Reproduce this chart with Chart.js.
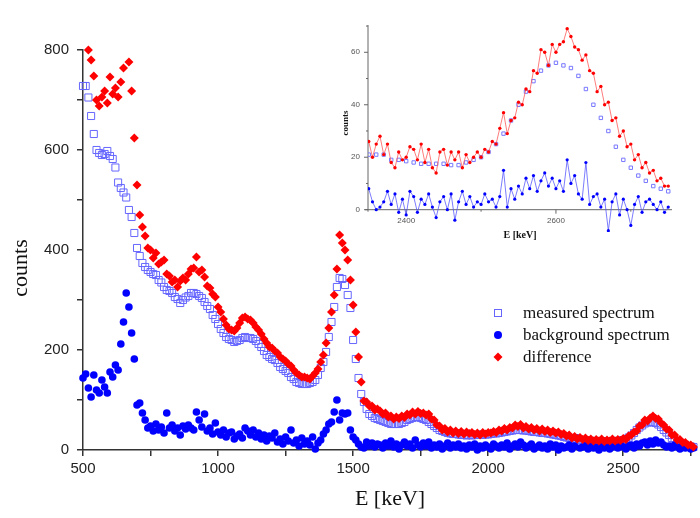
<!DOCTYPE html>
<html>
<head>
<meta charset="utf-8">
<script src="https://cdn.jsdelivr.net/npm/chart.js@4.4.0/dist/chart.umd.min.js"></script>
<style>
  html, body { margin: 0; padding: 0; background: #fff; overflow: hidden; }
  #wrap { position: relative; width: 700px; height: 518px; }
  #main { position: absolute; left: 0; top: 0; }
  #inset { position: absolute; left: 340px; top: 0; }
</style>
</head>
<body>
<div id="wrap">
  <canvas id="main" width="700" height="518"></canvas>
  <canvas id="inset" width="360" height="250"></canvas>
</div>
<script>
// Datos del espectro principal (canal de 10 keV a partir de 500 keV)
const E_START = 500;
const E_STEP = 10;

const SERIES_LABELS = ['measured spectrum', 'background spectrum', 'difference'];
const X_TITLE = 'E [keV]';
const Y_TITLE = 'counts';
const X_TICK_LABELS = [500, 1000, 1500, 2000, 2500];
const X_TICK_MARKS = [500, 750, 1000, 1250, 1500, 1750, 2000, 2250, 2500, 2750];
const Y_TICK_LABELS = [0, 200, 400, 600, 800];
const Y_TICK_MARKS = [0, 100, 200, 300, 400, 500, 600, 700, 800];

const measuredCounts = [
  728, 728, 705, 668, 632, 600, 594, 590, 592, 598,
  588, 582, 565, 535, 524, 515, 505, 480, 466, 434,
  404, 388, 374, 366, 360, 356, 352, 350, 340, 335,
  326, 320, 318, 314, 306, 302, 294, 300, 305, 308,
  314, 314, 312, 308, 304, 296, 288, 282, 270, 262,
  252, 242, 234, 226, 222, 220, 216, 218, 220, 224,
  226, 224, 224, 222, 218, 212, 206, 198, 190, 186,
  182, 180, 174, 166, 162, 158, 154, 146, 142, 136,
  134, 132, 132, 132, 134, 136, 140, 150, 164, 176,
  196, 226, 256, 286, 326, 344, 342, 330, 310, 284,
  220, 182, 144, 112, 96, 82, 72, 68, 64, 62,
  60, 58, 56, 54, 52, 52, 52, 52, 54, 56,
  60, 62, 64, 66, 66, 64, 62, 60, 56, 52,
  48, 44, 40, 38, 36, 34, 33, 32, 32, 31,
  30, 30, 29, 30, 29, 30, 30, 31, 30, 31,
  31, 32, 33, 33, 34, 35, 36, 37, 38, 39,
  40, 40, 40, 39, 39, 38, 37, 36, 36, 35,
  34, 34, 33, 32, 31, 30, 29, 28, 26, 25,
  24, 23, 22, 21, 20, 20, 19, 19, 18, 18,
  18, 18, 17, 17, 17, 17, 17, 18, 18, 19,
  20, 22, 25, 29, 34, 40, 45, 49, 53, 55,
  56, 55, 54, 51, 46, 40, 35, 30, 24, 19,
  16, 13, 11, 9, 8, 7, 6
];

const backgroundCounts = [
  144, 152, 124, 106, 150, 120, 114, 140, 126, 114,
  156, 146, 170, 160, 212, 256, 314, 286, 234, 182,
  90, 94, 74, 60, 44, 48, 38, 52, 40, 46,
  34, 74, 44, 50, 38, 44, 30, 48, 42, 50,
  44, 40, 76, 60, 46, 72, 38, 44, 32, 54,
  36, 30, 40, 26, 34, 36, 22, 28, 32, 24,
  44, 38, 30, 40, 26, 34, 22, 30, 18, 28,
  24, 34, 16, 22, 12, 26, 18, 40, 14, 20,
  8, 24, 12, 18, 10, 26, 2, 14, 20, 32,
  40, 52, 56, 76, 100, 60, 74, 72, 74, 40,
  26, 20, 12, 6, 4, 16, 8, 14, 6, 12,
  10, 4, 14, 8, 18, 6, 12, 2, 10, 16,
  8, 12, 4, 20, 10, 6, 14, 8, 16, 4,
  10, 6, 12, 2, 8, 14, 4, 10, 6, 12,
  4, 8, 2, 10, 6, 12, 0, 8, 4, 10,
  6, 2, 12, 8, 4, 10, 6, 14, 2, 8,
  12, 6, 16, 10, 4, 8, 12, 2, 6, 10,
  4, 8, 2, 12, 6, 10, 0, 8, 4, 6,
  10, 2, 8, 24, 4, 6, 10, 2, 8, 4,
  6, 0, 8, 4, 10, 2, 6, 8, 4, 10,
  6, 2, 8, 10, 4, 12, 8, 14, 16, 10,
  18, 12, 20, 14, 16, 10, 6, 8, 4, 10,
  6, 2, 8, 4, 6, 2, 4
];

const differenceCounts = [
  842, 868, 800, 780, 748, 700, 688, 706, 718, 694,
  746, 712, 724, 706, 736, 764, 834, 776, 718, 624,
  530, 470, 446, 428, 404, 400, 384, 394, 372, 376,
  380, 352, 348, 336, 340, 326, 338, 344, 340, 352,
  362, 364, 386, 356, 360, 346, 328, 324, 312, 306,
  286, 276, 262, 250, 242, 240, 238, 244, 254, 264,
  266, 262, 260, 254, 246, 240, 232, 222, 214, 206,
  204, 198, 194, 186, 182, 178, 172, 168, 160, 154,
  150, 146, 146, 144, 142, 148, 154, 162, 176, 190,
  214, 244, 276, 310, 362, 430, 414, 400, 380, 340,
  290, 236, 186, 136, 98, 96, 88, 88, 80, 82,
  78, 72, 74, 66, 68, 62, 66, 63, 68, 65,
  72, 70, 76, 72, 77, 73, 74, 70, 72, 62,
  60, 50, 48, 40, 43, 36, 40, 34, 38, 33,
  37, 32, 36, 33, 35, 31, 34, 30, 35, 32,
  35, 34, 37, 35, 40, 38, 43, 40, 45, 44,
  50, 47, 51, 44, 47, 42, 45, 40, 43, 38,
  42, 37, 40, 35, 38, 34, 36, 31, 33, 28,
  30, 24, 27, 22, 25, 21, 24, 19, 22, 18,
  21, 18, 22, 17, 20, 18, 22, 18, 21, 19,
  23, 21, 28, 30, 36, 38, 48, 50, 60, 58,
  64, 68, 63, 62, 54, 50, 42, 40, 30, 30,
  20, 21, 15, 15, 10, 10, 6
];

// Datos del recuadro (zoom del pico de 2614 keV)
const INSET_LINE_START = 2350;
const INSET_LINE_STEP = 5;
const INSET_SQ_START = 2350;
const INSET_SQ_STEP = 10;
const INSET_X_TICK_LABELS = [2400, 2600];
const INSET_Y_TICK_LABELS = [0, 20, 40, 60];

const insetDifference = [
  26, 20, 25, 28, 21, 25, 18, 16, 22, 19,
  20, 24, 23, 19, 25, 18, 23, 16, 14, 22,
  23, 17, 22, 19, 22, 16, 21, 18, 20, 22,
  20, 23, 22, 26, 25, 31, 37, 29, 34, 35,
  41, 40, 46, 45, 53, 52, 61, 60, 55, 63,
  60, 63, 64, 69, 66, 62, 61, 57, 59, 53,
  52, 45, 47, 40, 41, 34, 35, 28, 30, 24,
  25, 19, 21, 16, 18, 14, 15, 11, 12, 9,
  9
];

const insetBackground = [
  8, 3, 0, 1, 3, 7, 2, 6, -1, 4,
  -2, 7, 5, -1, 4, 2, 6, 1, -3, 3,
  5, 0, 6, -4, 3, 7, 2, 5, 1, 3,
  2, 6, 3, 4, 1, 5, 15, 1, 8, 4,
  9, 6, 12, 8, 13, 7, 11, 14, 9, 12,
  8, 11, 7, 19, 10, 13, 6, 4, 18, 2,
  5, 6, 1, 4, -8, 3, 6, -2, 4, 0,
  -6, 2, 5, -1, 3, 4, 2, 0, 3, -1,
  1
];

const insetMeasured = [
  21, 21, 21, 19, 19, 18.5, 18, 17.5, 17.5, 17.5,
  17.5, 17, 17, 18, 19, 20, 22, 25, 29, 34,
  40, 45, 49, 53, 55, 56, 55, 54, 51, 46,
  40, 35, 30, 24, 19, 16, 13, 11, 9, 8,
  7
];

const FUENTE_SANS = '"Liberation Sans", Arial, sans-serif';
const FUENTE_SERIF = '"Liberation Serif", "Times New Roman", serif';

function aPuntos(valores, inicio, paso) {
  return valores.map((v, i) => ({ x: inicio + i * paso, y: v }));
}

// dibuja un marcador igual que los de las series
function dibujarMarcador(ctx, estilo, x, y) {
  ctx.save();
  if (estilo === 'rect') {
    ctx.strokeStyle = '#6666ff';
    ctx.lineWidth = 1;
    ctx.strokeRect(x - 3.5, y - 3.5, 7, 7);
  } else if (estilo === 'circle') {
    ctx.fillStyle = '#0000ff';
    ctx.beginPath();
    ctx.arc(x, y, 4, 0, Math.PI * 2);
    ctx.fill();
  } else {
    ctx.fillStyle = '#ff0000';
    ctx.beginPath();
    ctx.moveTo(x - 4.5, y);
    ctx.lineTo(x, y - 4.5);
    ctx.lineTo(x + 4.5, y);
    ctx.lineTo(x, y + 4.5);
    ctx.closePath();
    ctx.fill();
  }
  ctx.restore();
}

const decoracionPrincipal = {
  id: 'decoracionPrincipal',
  afterDraw(chart) {
    const ctx = chart.ctx;
    ctx.save();
    ctx.fillStyle = '#111';
    ctx.font = '22px ' + FUENTE_SERIF;
    ctx.textAlign = 'center';
    ctx.textBaseline = 'middle';
    ctx.fillText(X_TITLE, 390, 499);
    ctx.save();
    ctx.translate(21, 268);
    ctx.rotate(-Math.PI / 2);
    ctx.fillText(Y_TITLE, 0, 0);
    ctx.restore();

    // leyenda
    const estilos = ['rect', 'circle', 'rectRot'];
    ctx.font = '17px ' + FUENTE_SERIF;
    ctx.textAlign = 'left';
    SERIES_LABELS.forEach((txt, i) => {
      const y = 313 + i * 22;
      dibujarMarcador(ctx, estilos[i], 498, y);
      ctx.fillStyle = '#111';
      ctx.fillText(txt, 523, y + 1);
    });
    ctx.restore();
  }
};

new Chart(document.getElementById('main'), {
  type: 'scatter',
  data: {
    datasets: [
      {
        label: SERIES_LABELS[0],
        data: aPuntos(measuredCounts, E_START, E_STEP),
        pointStyle: 'rect',
        pointRadius: 5,
        pointBorderWidth: 1,
        borderColor: '#6666ff',
        backgroundColor: 'rgba(0,0,0,0)',
        clip: false,
        order: 3
      },
      {
        label: SERIES_LABELS[1],
        data: aPuntos(backgroundCounts, E_START, E_STEP),
        pointStyle: 'circle',
        pointRadius: 3.8,
        pointBorderWidth: 0,
        borderColor: '#0000ff',
        backgroundColor: '#0000ff',
        clip: false,
        order: 2
      },
      {
        label: SERIES_LABELS[2],
        data: aPuntos(differenceCounts, E_START, E_STEP),
        pointStyle: 'rectRot',
        pointRadius: 4.5,
        pointBorderWidth: 0,
        borderColor: '#ff0000',
        backgroundColor: '#ff0000',
        clip: false,
        order: 1
      }
    ]
  },
  options: {
    responsive: false,
    animation: false,
    events: [],
    layout: { padding: { top: 50, right: 0, left: 0, bottom: 0 } },
    plugins: { legend: { display: false }, tooltip: { enabled: false } },
    scales: {
      x: {
        type: 'linear',
        min: 500,
        max: 2762,
        afterFit: (s) => { s.height = 68; },
        afterBuildTicks: (s) => { s.ticks = X_TICK_MARKS.map(v => ({ value: v })); },
        border: { color: '#333', width: 1.5 },
        grid: { drawOnChartArea: false, drawTicks: true, tickLength: 6, color: '#333', lineWidth: 1.5 },
        ticks: {
          autoSkip: false,
          maxRotation: 0,
          padding: 4,
          color: '#222',
          font: { family: FUENTE_SANS, size: 15 },
          callback: (v) => X_TICK_LABELS.includes(v) ? String(v) : ''
        }
      },
      y: {
        min: 0,
        max: 800,
        afterFit: (s) => { s.width = 83; },
        afterBuildTicks: (s) => { s.ticks = Y_TICK_MARKS.map(v => ({ value: v })); },
        border: { color: '#333', width: 1.5 },
        grid: { drawOnChartArea: false, drawTicks: true, tickLength: 6, color: '#333', lineWidth: 1.5 },
        ticks: {
          autoSkip: false,
          padding: 8,
          color: '#222',
          font: { family: FUENTE_SANS, size: 15 },
          callback: (v) => Y_TICK_LABELS.includes(v) ? String(v) : ''
        }
      }
    }
  },
  plugins: [decoracionPrincipal]
});

// =============================================================
//      RECUADRO
// =============================================================
const ejesRecuadro = {
  id: 'ejesRecuadro',
  beforeDatasetsDraw(chart) {
    const ctx = chart.ctx;
    const x = chart.scales.x, y = chart.scales.y;
    const area = chart.chartArea;
    const y0 = y.getPixelForValue(0);
    ctx.save();
    ctx.strokeStyle = '#666';
    ctx.lineWidth = 1;
    ctx.beginPath();
    ctx.moveTo(area.left, area.top);
    ctx.lineTo(area.left, y0 + 2);
    ctx.moveTo(area.left - 3, y0);
    ctx.lineTo(area.right, y0);
    for (let v = 0; v <= 70; v += 10) {
      const py = y.getPixelForValue(v);
      ctx.moveTo(area.left, py);
      ctx.lineTo(area.left - (v % 20 === 0 ? 4 : 2), py);
    }
    for (let v = 2400; v <= 2700; v += 100) {
      const px = x.getPixelForValue(v);
      ctx.moveTo(px, y0);
      ctx.lineTo(px, y0 + (v % 200 === 0 ? 4 : 2));
    }
    ctx.stroke();

    ctx.fillStyle = '#555';
    ctx.font = '8px ' + FUENTE_SANS;
    ctx.textAlign = 'right';
    ctx.textBaseline = 'middle';
    INSET_Y_TICK_LABELS.forEach(v => ctx.fillText(String(v), area.left - 8, y.getPixelForValue(v)));
    ctx.textAlign = 'center';
    INSET_X_TICK_LABELS.forEach(v => ctx.fillText(String(v), x.getPixelForValue(v), y0 + 11));

    ctx.fillStyle = '#111';
    ctx.font = 'bold 10px ' + FUENTE_SERIF;
    ctx.fillText(X_TITLE, 180, 235);
    ctx.translate(6, 123);
    ctx.rotate(-Math.PI / 2);
    ctx.font = 'bold 9px ' + FUENTE_SERIF;
    ctx.fillText(Y_TITLE, 0, 0);
    ctx.restore();
  }
};

new Chart(document.getElementById('inset'), {
  type: 'scatter',
  data: {
    datasets: [
      {
        label: SERIES_LABELS[0],
        data: aPuntos(insetMeasured, INSET_SQ_START, INSET_SQ_STEP),
        pointStyle: 'rect',
        pointRadius: 2.4,
        pointBorderWidth: 1,
        borderColor: '#7878ff',
        backgroundColor: 'rgba(0,0,0,0)',
        showLine: false,
        order: 3
      },
      {
        label: SERIES_LABELS[1],
        data: aPuntos(insetBackground, INSET_LINE_START, INSET_LINE_STEP),
        showLine: true,
        borderWidth: 1,
        borderColor: 'rgba(80,80,255,0.75)',
        pointRadius: 1.6,
        pointBorderWidth: 0,
        pointBackgroundColor: '#0000ff',
        backgroundColor: '#0000ff',
        order: 2
      },
      {
        label: SERIES_LABELS[2],
        data: aPuntos(insetDifference, INSET_LINE_START, INSET_LINE_STEP),
        showLine: true,
        borderWidth: 1,
        borderColor: 'rgba(255,80,80,0.75)',
        pointRadius: 1.7,
        pointBorderWidth: 0,
        pointBackgroundColor: '#ff0000',
        backgroundColor: '#ff0000',
        order: 1
      }
    ]
  },
  options: {
    responsive: false,
    animation: false,
    events: [],
    layout: { padding: { left: 28, right: 28, top: 25, bottom: 18 } },
    plugins: { legend: { display: false }, tooltip: { enabled: false } },
    scales: {
      x: { type: 'linear', display: false, min: 2349, max: 2755 },
      y: { display: false, min: -8.5, max: 70.4 }
    }
  },
  plugins: [ejesRecuadro]
});
</script>
</body>
</html>
